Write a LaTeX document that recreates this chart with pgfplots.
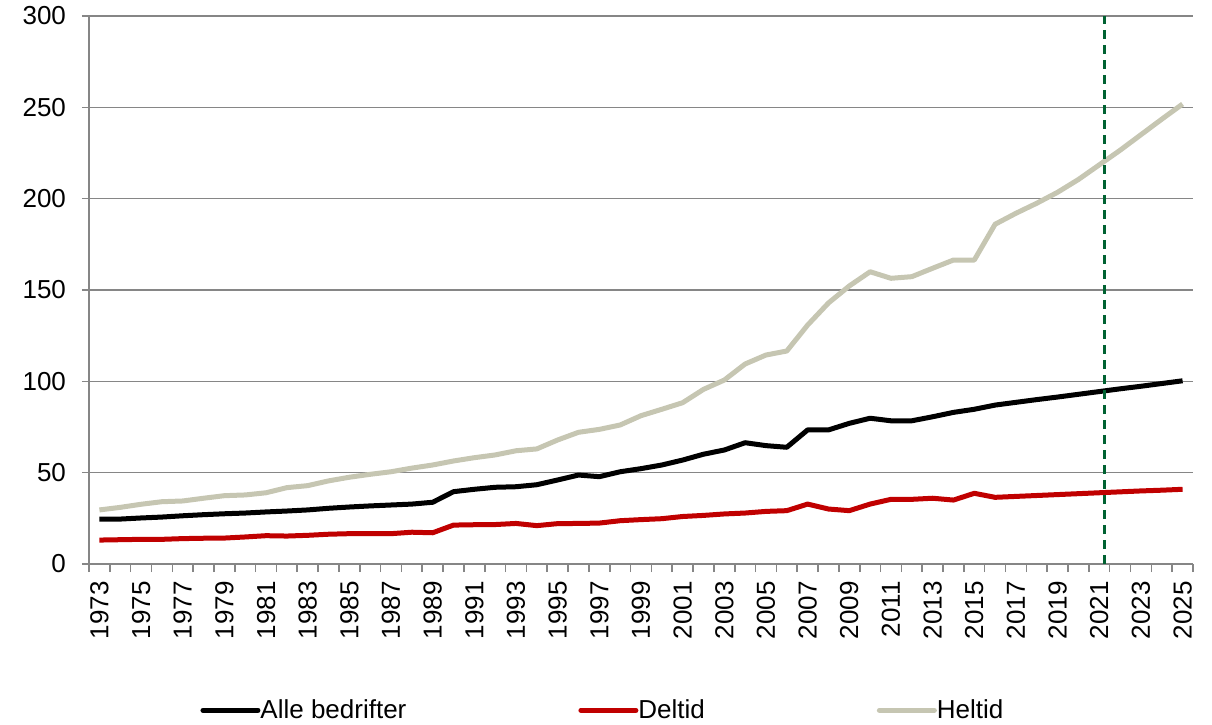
\documentclass[border=0pt]{standalone}
\usepackage{fontspec}
\setmainfont{Liberation Sans}
\usepackage{pgfplots}
\usepackage{pgfplotstable}
\pgfplotsset{compat=1.18}

\definecolor{axisgray}{RGB}{134,134,134}
\definecolor{deltidred}{RGB}{192,0,0}
\definecolor{heltidgray}{RGB}{198,198,178}
\definecolor{cutgreen}{RGB}{0,98,50}

% year, alle bedrifter, deltid, heltid
\pgfplotstableread{
year alle deltid heltid
1973 24.5 13.1 29.6
1974 24.6 13.3 31.0
1975 25.2 13.5 32.7
1976 25.7 13.5 34.1
1977 26.4 13.9 34.5
1978 27.0 14.1 36.0
1979 27.5 14.2 37.4
1980 27.9 14.8 37.8
1981 28.5 15.5 39.0
1982 29.0 15.3 41.8
1983 29.6 15.7 42.9
1984 30.5 16.3 45.5
1985 31.2 16.6 47.5
1986 31.8 16.6 49.1
1987 32.3 16.6 50.5
1988 32.8 17.4 52.5
1989 33.8 17.1 54.2
1990 39.6 21.3 56.4
1991 40.9 21.5 58.2
1992 42.0 21.6 59.7
1993 42.3 22.2 62.0
1994 43.4 21.0 63.0
1995 46.0 22.1 67.9
1996 48.7 22.2 72.1
1997 47.8 22.4 73.7
1998 50.5 23.7 76.1
1999 52.2 24.3 81.2
2000 54.2 24.8 84.7
2001 56.9 26.0 88.3
2002 60.1 26.6 95.6
2003 62.4 27.4 100.7
2004 66.4 27.9 109.5
2005 64.8 28.8 114.4
2006 63.9 29.2 116.6
2007 73.4 32.8 130.8
2008 73.4 30.1 142.9
2009 77.0 29.2 152.2
2010 79.8 32.8 160.0
2011 78.4 35.4 156.4
2012 78.4 35.4 157.3
2013 80.6 36.0 161.9
2014 83.0 35.0 166.4
2015 84.7 38.7 166.4
2016 87.0 36.5 186.0
2017 88.5 37.0 192.0
2018 90.0 37.5 197.5
2019 91.4 38.0 203.5
2020 92.9 38.5 210.5
2021 94.4 39.0 218.5
2022 95.9 39.5 226.5
2023 97.3 40.0 235.0
2024 98.8 40.4 243.5
2025 100.3 40.9 251.8
}\datatable

\begin{document}
\begin{tikzpicture}
\path[use as bounding box] (-44.5pt,-80pt) rectangle (561.5pt,282pt);
\begin{axis}[
    scale only axis,
    width=552pt, height=274pt,
    xmin=1972.5, xmax=2025.5,
    ymin=0, ymax=300,
    axis x line*=bottom, axis y line*=left,
    axis line style={draw=axisgray, line width=0.8pt},
    xtick={1973,1975,...,2025},
    minor xtick={1972.5,1973.5,...,2025.5},
    ytick={0,50,...,300},
    ymajorgrids,
    major grid style={draw=axisgray, line width=0.8pt},
    tick align=outside,
    major tick length=3.5pt,
    minor tick length=4pt,
    major x tick style={draw=none},
    minor x tick style={draw=axisgray, line width=0.8pt},
    major y tick style={draw=axisgray, line width=0.8pt},
    tick label style={font=\fontsize{13}{15}\selectfont, text=black},
    xticklabel style={rotate=90, anchor=east},
    xticklabel shift=1.7pt,
    yticklabel shift=4.5pt,
    /pgf/number format/assume math mode=true,
    /pgf/number format/set thousands separator={},
    legend columns=3,
    legend cell align=left,
    legend style={
        at={(0.1006,-0.267)}, anchor=west,
        draw=none, fill=none, inner sep=0pt,
        font=\fontsize{13}{15}\selectfont,
        nodes={inner sep=0pt},
        /tikz/every odd column/.append style={column sep=0pt},
        /tikz/every even column/.append style={column sep=86pt},
    },
    legend image code/.code={\draw[#1, line cap=round] (0pt,0pt) -- (27.5pt,0pt);},
]
    \addplot[black, line width=2.5pt, line join=round] table[x=year, y=alle] {\datatable};
    \addlegendentry{Alle bedrifter}
    \addplot[deltidred, line width=2.5pt, line join=round] table[x=year, y=deltid] {\datatable};
    \addlegendentry{Deltid}
    \addplot[heltidgray, line width=2.5pt, line join=round] table[x=year, y=heltid] {\datatable};
    \addlegendentry{Heltid}
    \addplot[cutgreen, line width=1.1pt, dash pattern=on 4.5pt off 3pt, forget plot]
        coordinates {(2021.25,0) (2021.25,300)};
\end{axis}
\end{tikzpicture}
\end{document}
